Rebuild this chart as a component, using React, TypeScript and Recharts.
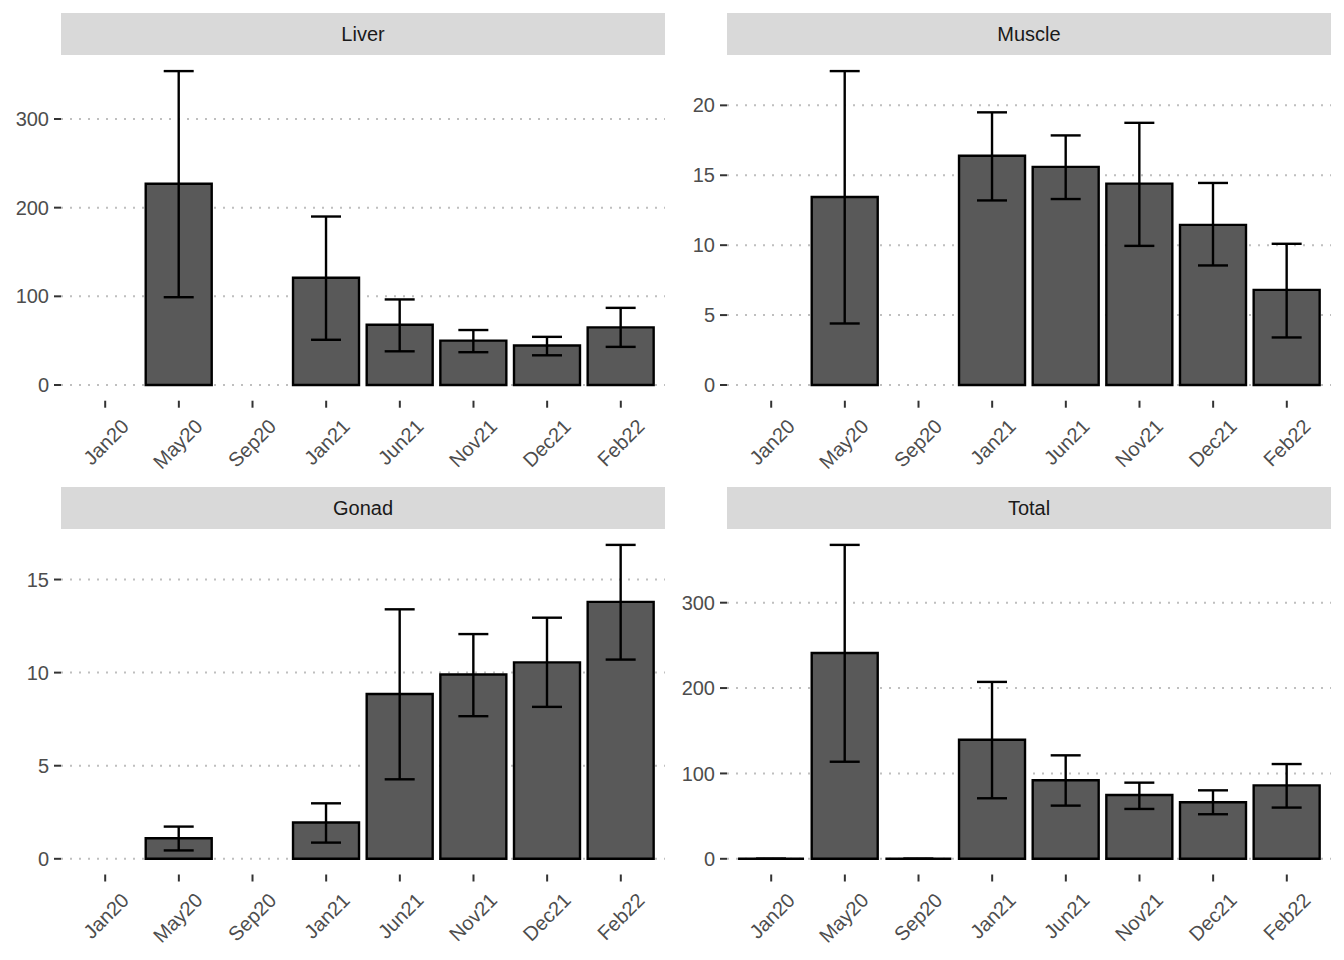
import { BarChart, Bar, XAxis, YAxis, CartesianGrid, ErrorBar } from 'recharts';

const months = ['Jan20', 'May20', 'Sep20', 'Jan21', 'Jun21', 'Nov21', 'Dec21', 'Feb22'];

// values: bar height, lower and upper end of the error bar
const liverMean = [null, 227, null, 121, 68, 50, 44.5, 65];
const liverLow = [null, 99, null, 51, 38, 37, 33.5, 43];
const liverHigh = [null, 354, null, 190, 96.5, 62, 54.3, 87];

const muscleMean = [null, 13.45, null, 16.4, 15.6, 14.4, 11.45, 6.8];
const muscleLow = [null, 4.4, null, 13.2, 13.3, 9.95, 8.55, 3.4];
const muscleHigh = [null, 22.45, null, 19.5, 17.85, 18.75, 14.45, 10.1];

const gonadMean = [null, 1.1, null, 1.95, 8.85, 9.9, 10.55, 13.8];
const gonadLow = [null, 0.45, null, 0.87, 4.27, 7.66, 8.16, 10.7];
const gonadHigh = [null, 1.73, null, 2.98, 13.4, 12.07, 12.95, 16.86];

const totalMean = [0, 241, 0, 139.5, 92, 74.8, 66.2, 86];
const totalLow = [0, 113.7, 0, 70.9, 62.3, 58.4, 52.2, 60];
const totalHigh = [0, 367.7, 0, 207.2, 121.2, 89.2, 80.2, 111];

const liverTicks = [0, 100, 200, 300];
const muscleTicks = [0, 5, 10, 15, 20];
const gonadTicks = [0, 5, 10, 15];
const totalTicks = [0, 100, 200, 300];

const FONT = '"Liberation Sans", Arial, Helvetica, sans-serif';
const PANEL_W = 604;
const PANEL_H = 345.3;
const STRIP_H = 42;

function buildRows(mean: (number | null)[], low: (number | null)[], high: (number | null)[]) {
  return months.map((m, i) => {
    const v = mean[i];
    const lo = low[i];
    const hi = high[i];
    return {
      month: m,
      mean: v,
      err: v == null || lo == null || hi == null ? null : [v - lo, hi - v],
    };
  });
}

const BarShape = (p: any) => {
  const { x, y, width, height, payload } = p;
  if (payload == null || payload.mean == null || x == null || y == null) return null;
  return (
    <path
      d={`M${x},${y}h${width}v${height || 0}h${-width}Z`}
      fill="#595959"
      stroke="#000000"
      strokeWidth={2.4}
    />
  );
};

const XTick = ({ x, y, payload }: any) => {
  const ax = x + 25;
  const ay = y + 18;
  return (
    <text
      x={ax}
      y={ay}
      textAnchor="end"
      transform={`rotate(-45, ${ax}, ${ay})`}
      fill="#4D4D4D"
      fontSize={20}
      fontFamily={FONT}
    >
      {payload.value}
    </text>
  );
};

interface PanelProps {
  title: string;
  left: number;
  top: number;
  axisWidth: number;
  plotTop: number;
  mean: (number | null)[];
  low: (number | null)[];
  high: (number | null)[];
  ticks: number[];
}

function Panel({ title, left, top, axisWidth, plotTop, mean, low, high, ticks }: PanelProps) {
  const rows = buildRows(mean, low, high);
  const maxVal = Math.max(...(high.filter((h) => h != null) as number[]));
  const domain = [-0.05 * maxVal, 1.05 * maxVal];
  const chartW = 672;
  const chartH = 480;
  const xAxisH = 60;
  const bandPad = (PANEL_W / 8.2) * 0.1;

  return (
    <div style={{ position: 'absolute', left, top, width: chartW, height: chartH }}>
      <div
        style={{
          position: 'absolute',
          left: axisWidth,
          top: plotTop - STRIP_H,
          width: PANEL_W,
          height: STRIP_H,
          background: '#D9D9D9',
          color: '#1A1A1A',
          fontFamily: FONT,
          fontSize: 20,
          display: 'flex',
          alignItems: 'center',
          justifyContent: 'center',
        }}
      >
        {title}
      </div>
      <BarChart
        width={chartW}
        height={chartH}
        data={rows}
        barCategoryGap="5%"
        margin={{
          top: plotTop,
          left: 0,
          right: chartW - axisWidth - PANEL_W,
          bottom: chartH - plotTop - PANEL_H - xAxisH,
        }}
      >
        <CartesianGrid
          vertical={false}
          syncWithTicks
          stroke="#BFBFBF"
          strokeWidth={2}
          strokeDasharray="2 7"
        />
        <XAxis
          dataKey="month"
          interval={0}
          height={xAxisH}
          padding={{ left: bandPad, right: bandPad }}
          axisLine={false}
          tickLine={{ stroke: '#333333', strokeWidth: 2 }}
          tickSize={7}
          tickMargin={2}
          tick={<XTick />}
        />
        <YAxis
          type="number"
          width={axisWidth}
          domain={domain}
          ticks={ticks}
          allowDataOverflow
          axisLine={false}
          tickLine={{ stroke: '#333333', strokeWidth: 2 }}
          tickSize={7}
          tickMargin={5}
          tick={{ fill: '#4D4D4D', fontSize: 20, fontFamily: FONT }}
        />
        <Bar dataKey="mean" shape={<BarShape />} isAnimationActive={false}>
          <ErrorBar dataKey="err" width={15} stroke="#000000" strokeWidth={2.4} isAnimationActive={false} />
        </Bar>
      </BarChart>
    </div>
  );
}

export default function App() {
  return (
    <div style={{ position: 'absolute', left: 0, top: 0, width: 1344, height: 960, background: '#FFFFFF' }}>
      <Panel title="Liver" left={0} top={0} axisWidth={61} plotTop={55.4}
        mean={liverMean} low={liverLow} high={liverHigh} ticks={liverTicks} />
      <Panel title="Muscle" left={672} top={0} axisWidth={55} plotTop={55.4}
        mean={muscleMean} low={muscleLow} high={muscleHigh} ticks={muscleTicks} />
      <Panel title="Gonad" left={0} top={480} axisWidth={61} plotTop={49.2}
        mean={gonadMean} low={gonadLow} high={gonadHigh} ticks={gonadTicks} />
      <Panel title="Total" left={672} top={480} axisWidth={55} plotTop={49.2}
        mean={totalMean} low={totalLow} high={totalHigh} ticks={totalTicks} />
    </div>
  );
}
